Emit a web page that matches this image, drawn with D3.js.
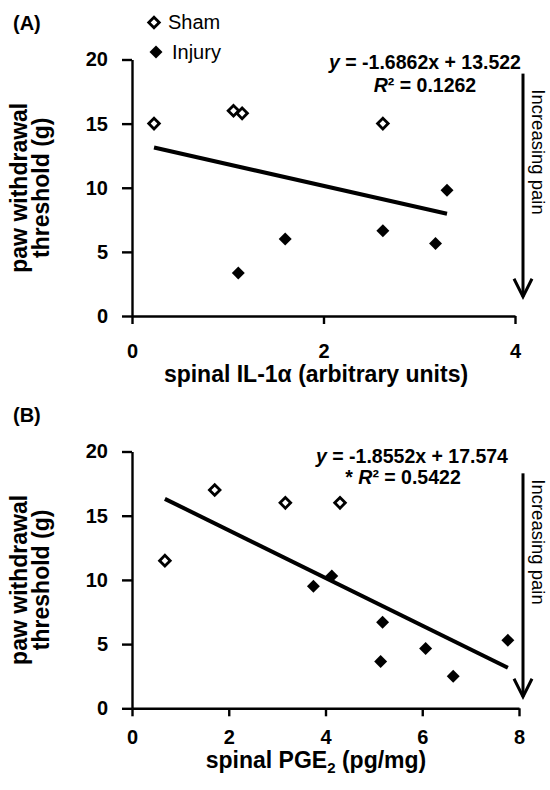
<!DOCTYPE html>
<html>
<head>
<meta charset="utf-8">
<script src="https://cdn.jsdelivr.net/npm/d3@7"></script>
<style>
body { margin: 0; background: #fff; }
svg text { font-family: "Liberation Sans", Arial, Helvetica, sans-serif; fill: #000; }
</style>
</head>
<body>
<div class="svg"></div>
<script>
const w = 550;
const h = 790;

// panel A: spinal IL-1a
const shamAx = [0.23, 1.06, 1.15, 2.62];
const shamAy = [15.0, 16.0, 15.8, 15.0];
const injuryAx = [1.11, 1.60, 2.62, 3.17, 3.29];
const injuryAy = [3.35, 6.0, 6.65, 5.65, 9.8];
const fitA = [-1.6862, 13.522];
const xTicksA = [0, 2, 4];

// panel B: spinal PGE2
const shamBx = [0.68, 1.71, 3.17, 4.30];
const shamBy = [11.5, 17.0, 16.0, 16.0];
const injuryBx = [3.75, 4.13, 5.18, 5.14, 6.07, 6.64, 7.77];
const injuryBy = [9.5, 10.3, 6.7, 3.65, 4.65, 2.5, 5.3];
const fitB = [-1.8552, 17.574];
const xTicksB = [0, 2, 4, 6, 8];

const yTicks = [0, 5, 10, 15, 20];
const legendLabels = ['Sham', 'Injury'];

const svg = d3.select('.svg').append('svg').attr('width', w).attr('height', h).style('background-color', 'white');

const left = 132;
const shamSize = 56;
const injurySize = 84;

function panel(p) {
  const x = d3.scaleLinear().domain([0, p.xMax]).range([left, p.right]);
  const y = d3.scaleLinear().domain([0, 20]).range([p.bottom, p.top]);

  const yAxis = svg.append('g').attr('transform', `translate(${left}, 0)`)
    .call(d3.axisLeft(y).tickValues(yTicks).tickFormat(d3.format('d')).tickSize(10).tickSizeOuter(0).tickPadding(14));
  const xAxis = svg.append('g').attr('transform', `translate(0, ${p.bottom})`)
    .call(d3.axisBottom(x).tickValues(p.xTicks).tickFormat(d3.format('d')).tickSize(8).tickSizeOuter(0).tickPadding(p.xPad));
  [xAxis, yAxis].forEach(a => {
    a.selectAll('path, line').attr('stroke', '#000').attr('stroke-width', 2.4);
    a.selectAll('text').style('font-size', '20px').style('font-weight', 'bold');
  });

  // trend line over the range of all points
  const ext = d3.extent(p.sx.concat(p.ix));
  svg.append('line')
    .attr('x1', x(ext[0])).attr('y1', y(p.fit[0] * ext[0] + p.fit[1]))
    .attr('x2', x(ext[1])).attr('y2', y(p.fit[0] * ext[1] + p.fit[1]))
    .attr('stroke', '#000').attr('stroke-width', 4);

  svg.selectAll(null).data(d3.range(p.ix.length)).enter().append('path')
    .attr('d', d3.symbol().type(d3.symbolSquare).size(injurySize))
    .attr('transform', i => `translate(${x(p.ix[i])}, ${y(p.iy[i])}) rotate(45)`)
    .attr('fill', '#000');
  svg.selectAll(null).data(d3.range(p.sx.length)).enter().append('path')
    .attr('d', d3.symbol().type(d3.symbolSquare).size(shamSize))
    .attr('transform', i => `translate(${x(p.sx[i])}, ${y(p.sy[i])}) rotate(45)`)
    .attr('fill', '#fff').attr('stroke', '#000').attr('stroke-width', 2.8);

  // axis titles
  const yt = svg.append('text').attr('transform', `translate(0, ${(p.top + p.bottom) / 2}) rotate(-90)`)
    .attr('text-anchor', 'middle').style('font-size', '23px').style('font-weight', 'bold');
  yt.append('tspan').attr('x', 0).attr('y', 27).text('paw withdrawal');
  yt.append('tspan').attr('x', 0).attr('y', 49).text('threshold (g)');

  const xt = svg.append('text').attr('x', 316).attr('y', p.xTitleY)
    .attr('text-anchor', 'middle').style('font-size', '23px').style('font-weight', 'bold');
  p.xTitle(xt);

  svg.append('text').attr('x', 13).attr('y', p.top - 30).text(p.label)
    .style('font-size', '20px').style('font-weight', 'bold');

  // regression equation
  const eq1 = svg.append('text').attr('x', p.eqX).attr('y', p.eqY).attr('text-anchor', 'middle')
    .style('font-size', '19.5px').style('font-weight', 'bold');
  eq1.append('tspan').style('font-style', 'italic').text('y');
  eq1.append('tspan').text(` = ${p.fit[0]}x + ${p.fit[1]}`);
  const eq2 = svg.append('text').attr('x', p.r2X).attr('y', p.eqY + p.eqGap).attr('text-anchor', 'middle')
    .style('font-size', '19.5px').style('font-weight', 'bold');
  eq2.append('tspan').text(p.star);
  eq2.append('tspan').style('font-style', 'italic').text('R');
  eq2.append('tspan').text(`\u00b2 = ${p.r2}`);

  // increasing pain arrow
  const ax = 523;
  const a0 = y(p.arrow[0]);
  const a1 = y(p.arrow[1]);
  svg.append('line').attr('x1', ax).attr('x2', ax).attr('y1', a0).attr('y2', a1)
    .attr('stroke', '#000').attr('stroke-width', 3);
  svg.append('path').attr('d', `M${ax - 9},${a1 - 18}L${ax},${a1}L${ax + 9},${a1 - 18}`)
    .attr('fill', 'none').attr('stroke', '#000').attr('stroke-width', 3);
  svg.append('text').attr('transform', `translate(532, ${p.painY}) rotate(90)`)
    .attr('text-anchor', 'middle').style('font-size', '18.5px').text('Increasing pain');
}

panel({
  label: '(A)', top: 59.5, bottom: 316, right: 515, xMax: 4, xTicks: xTicksA, xPad: 20,
  sx: shamAx, sy: shamAy, ix: injuryAx, iy: injuryAy, fit: fitA, r2: '0.1262', star: '',
  eqX: 425, r2X: 425, eqY: 69, eqGap: 23, arrow: [18.9, 1.5], painY: 152, xTitleY: 382,
  xTitle: t => t.text('spinal IL-1\u03b1 (arbitrary units)')
});

panel({
  label: '(B)', top: 451.5, bottom: 708.3, right: 519, xMax: 8, xTicks: xTicksB, xPad: 14,
  sx: shamBx, sy: shamBy, ix: injuryBx, iy: injuryBy, fit: fitB, r2: '0.5422', star: '* ',
  eqX: 412, r2X: 403, eqY: 463, eqGap: 21, arrow: [18.3, 0.9], painY: 542, xTitleY: 768,
  xTitle: t => {
    t.append('tspan').text('spinal PGE');
    t.append('tspan').attr('dy', 5).style('font-size', '15px').text('2');
    t.append('tspan').attr('dy', -5).text(' (pg/mg)');
  }
});

// legend
const legend = svg.append('g');
legend.selectAll('path').data(legendLabels).enter().append('path')
  .attr('d', (d, i) => d3.symbol().type(d3.symbolSquare).size(i ? injurySize : shamSize)())
  .attr('transform', (d, i) => `translate(${154 + i * 2}, ${22.5 + i * 29.5}) rotate(45)`)
  .attr('fill', (d, i) => i ? '#000' : '#fff')
  .attr('stroke', (d, i) => i ? 'none' : '#000').attr('stroke-width', 2.8);
legend.selectAll('text').data(legendLabels).enter().append('text')
  .attr('x', (d, i) => 168 + i * 4).attr('y', (d, i) => 29 + i * 30)
  .style('font-size', '20px').text(d => d);
</script>
</body>
</html>
